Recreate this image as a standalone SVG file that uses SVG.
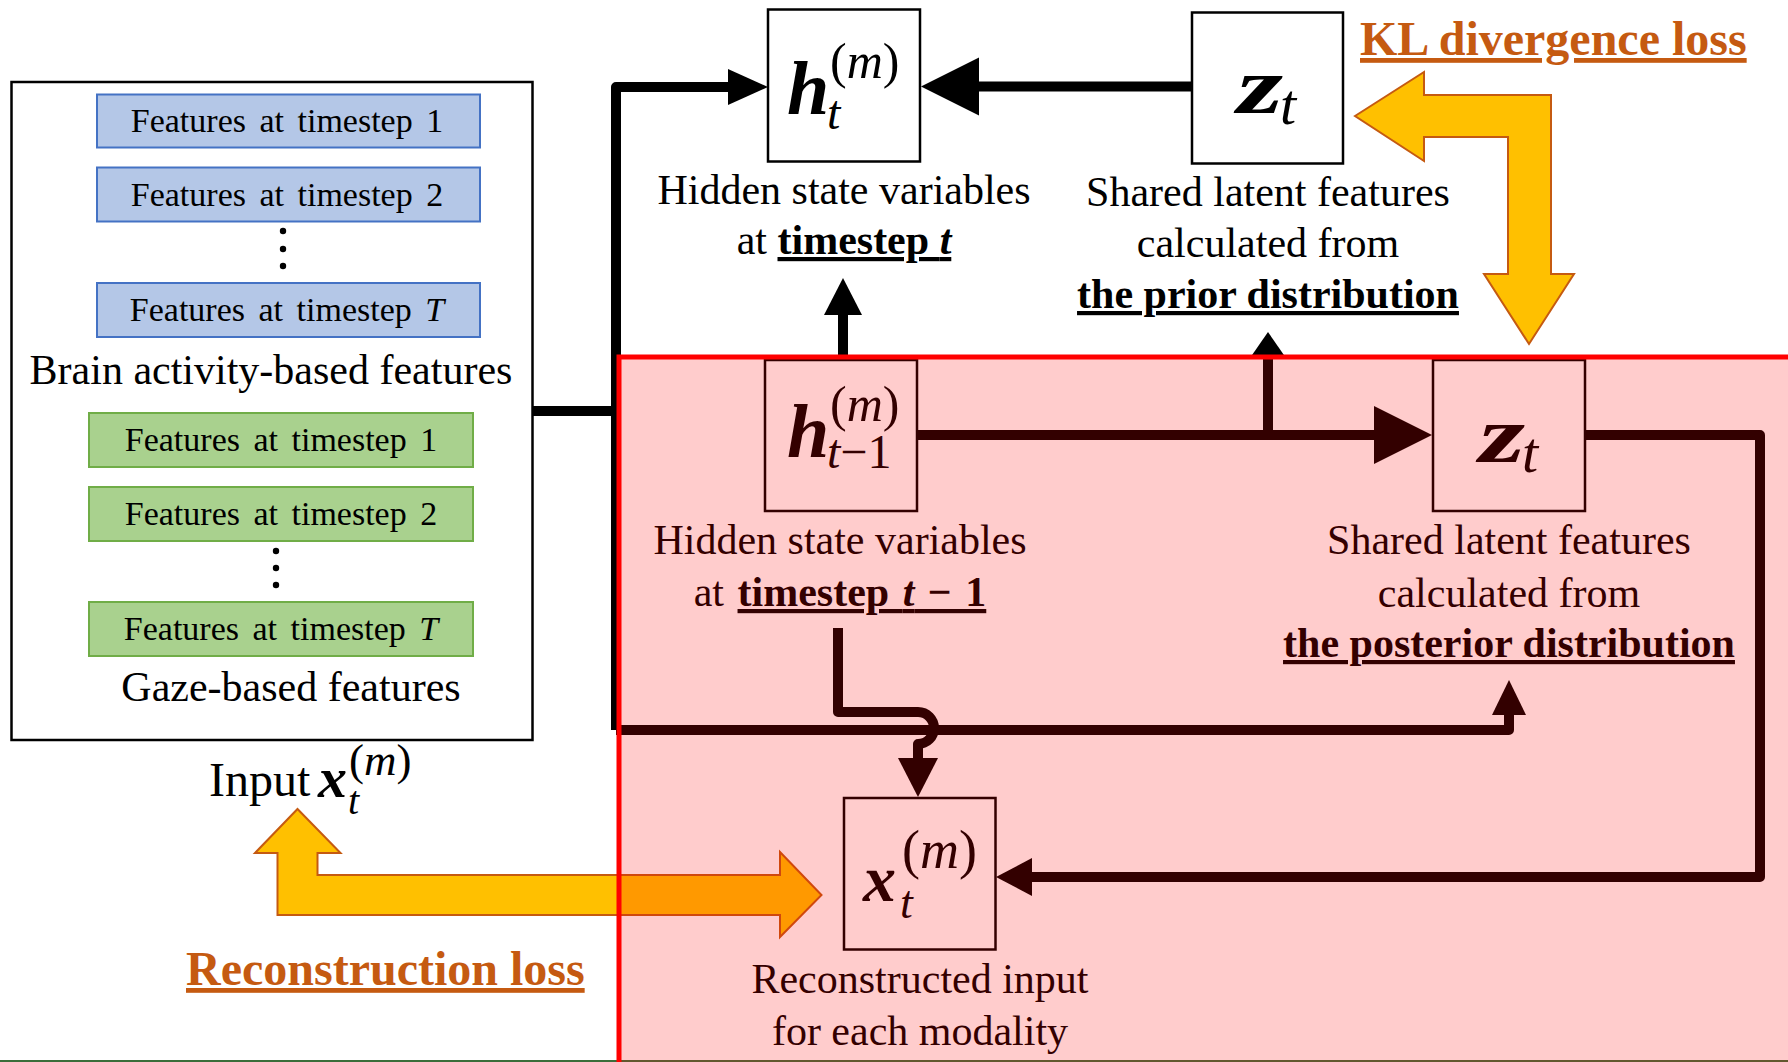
<svg xmlns="http://www.w3.org/2000/svg" width="1788" height="1062" viewBox="0 0 1788 1062">
  <style>
    .t { font-family: "Liberation Serif", "Times New Roman", serif; fill: #000; }
    .lbl { font-size: 42px; text-anchor: middle; }
    .feat { font-size: 34px; text-anchor: middle; word-spacing: 5px; }
    .b { font-weight: bold; }
    .u { text-decoration: underline; }
    .mi { font-style: italic; }
    .mb { font-style: italic; font-weight: bold; }
    .up { font-style: normal; }
    .box { fill: #fff; stroke: #000; stroke-width: 2.5; }
    .blue { fill: #B4C7E7; stroke: #4472C4; stroke-width: 2; }
    .green { fill: #A9D18E; stroke: #70AD47; stroke-width: 2; }
    .wire { fill: none; stroke: #000; stroke-width: 10; stroke-linejoin: round; }
    .head { fill: #000; }
    .loss { fill: #FFC000; stroke: #C55A11; stroke-width: 2; }
    .losstxt { font-family: "Liberation Serif", "Times New Roman", serif; font-weight: bold; font-size: 48px; fill: #C55A11; text-decoration: underline; }
  </style>

  <rect width="1788" height="1062" fill="#fff"/>

  <!-- input container with both feature stacks -->
  <g id="input">
    <rect class="box" x="11.5" y="82" width="521" height="658"/>
    <g id="brain-features">
      <rect class="blue" x="97" y="94.5" width="383" height="53"/>
      <text class="t feat" x="287" y="132">Features at timestep 1</text>
      <rect class="blue" x="97" y="167.5" width="383" height="54"/>
      <text class="t feat" x="287" y="205.5">Features at timestep 2</text>
      <circle cx="283" cy="231" r="3.2"/>
      <circle cx="283" cy="249" r="3.2"/>
      <circle cx="283" cy="266" r="3.2"/>
      <rect class="blue" x="97" y="283" width="383" height="54"/>
      <text class="t feat" x="287" y="321">Features at timestep <tspan class="mi">T</tspan></text>
      <text class="t lbl" x="271" y="384">Brain activity-based features</text>
    </g>
    <g id="gaze-features">
      <rect class="green" x="89" y="413" width="384" height="54"/>
      <text class="t feat" x="281" y="451">Features at timestep 1</text>
      <rect class="green" x="89" y="487" width="384" height="54"/>
      <text class="t feat" x="281" y="525">Features at timestep 2</text>
      <circle cx="276" cy="551" r="3.2"/>
      <circle cx="276" cy="568" r="3.2"/>
      <circle cx="276" cy="585" r="3.2"/>
      <rect class="green" x="89" y="602" width="384" height="54"/>
      <text class="t feat" x="281" y="640">Features at timestep <tspan class="mi">T</tspan></text>
      <text class="t lbl" x="291" y="701">Gaze-based features</text>
    </g>
    <text class="t" x="209" y="796" font-size="48">Input<tspan class="mb" x="318" y="797" font-size="58">x</tspan><tspan class="mi" x="348" y="814" font-size="40">t</tspan><tspan x="349" y="775" font-size="45">(<tspan class="mi">m</tspan>)</tspan></text>
  </g>

  <!-- hidden state at timestep t -->
  <g id="h-t">
    <rect class="box" x="768" y="9.5" width="152" height="152"/>
    <text class="t" x="787" y="114"><tspan class="mb" font-size="76">h</tspan><tspan class="mi" x="827" y="129" font-size="48">t</tspan><tspan x="830" y="78" font-size="50">(<tspan class="mi">m</tspan>)</tspan></text>
    <text class="t lbl" x="844" y="204">Hidden state variables</text>
    <text class="t lbl" x="844" y="254">at <tspan class="b u">timestep <tspan class="mb">t</tspan></tspan></text>
  </g>

  <!-- latent from the prior -->
  <g id="z-prior">
    <rect class="box" x="1192" y="12.5" width="151" height="151"/>
    <text class="t" x="1237" y="113"><tspan class="mb" font-size="80" textLength="46" lengthAdjust="spacingAndGlyphs">z</tspan><tspan class="mi" x="1280" y="124" font-size="58">t</tspan></text>
    <text class="t lbl" x="1268" y="206">Shared latent features</text>
    <text class="t lbl" x="1268" y="257">calculated from</text>
    <text class="t lbl b u" x="1268" y="308">the prior distribution</text>
  </g>

  <!-- hidden state at timestep t-1 -->
  <g id="h-prev">
    <rect class="box" x="765" y="360" width="152" height="151"/>
    <text class="t" x="787" y="457"><tspan class="mb" font-size="76">h</tspan><tspan class="mi" x="827" y="468" font-size="48">t<tspan class="up">−1</tspan></tspan><tspan x="830" y="421" font-size="50">(<tspan class="mi">m</tspan>)</tspan></text>
    <text class="t lbl" x="840" y="554">Hidden state variables</text>
    <text class="t lbl" x="840" y="606" word-spacing="3">at <tspan class="b u">timestep <tspan class="mb">t</tspan> − 1</tspan></text>
  </g>

  <!-- latent from the posterior -->
  <g id="z-post">
    <rect class="box" x="1433" y="360" width="152" height="151"/>
    <text class="t" x="1479" y="462"><tspan class="mb" font-size="80" textLength="46" lengthAdjust="spacingAndGlyphs">z</tspan><tspan class="mi" x="1522" y="472" font-size="58">t</tspan></text>
    <text class="t lbl" x="1509" y="554">Shared latent features</text>
    <text class="t lbl" x="1509" y="607">calculated from</text>
    <text class="t lbl b u" x="1509" y="657">the posterior distribution</text>
  </g>

  <!-- reconstructed input -->
  <g id="x-recon">
    <rect class="box" x="844" y="798" width="151.5" height="151.5"/>
    <text class="t" x="863" y="901"><tspan class="mb" font-size="66">x</tspan><tspan class="mi" x="900" y="918" font-size="46">t</tspan><tspan x="902" y="868" font-size="54">(<tspan class="mi">m</tspan>)</tspan></text>
    <text class="t lbl" x="920" y="993">Reconstructed input</text>
    <text class="t lbl" x="920" y="1045">for each modality</text>
  </g>

  <!-- loss arrows -->
  <g id="kl-loss">
    <polygon class="loss" points="1355,116 1424,72 1424,95 1551,95 1551,274 1574,274 1529,344 1484,274 1508,274 1508,137 1424,137 1424,161"/>
    <text class="losstxt" x="1360" y="55">KL divergence loss</text>
  </g>
  <g id="recon-loss">
    <polygon class="loss" points="297.5,809 340.5,853 317.5,853 317.5,875 780,875 780,852 821.5,895 780,937 780,915 277.5,915 277.5,853 255,853"/>
    <text class="losstxt" x="186" y="985">Reconstruction loss</text>
  </g>

  <!-- connectors -->
  <g id="connectors">
    <path class="wire" d="M532,411 H616"/>
    <path class="wire" d="M616,730 V87 H730"/>
    <path class="wire" d="M616,730 H1509 V713"/>
    <path class="wire" d="M1192,86.5 H977"/>
    <path class="wire" d="M843,360 V312"/>
    <path class="wire" d="M917,435 H1376"/>
    <path class="wire" d="M1268,435 V355"/>
    <path class="wire" d="M1585,435 H1760 V877 H1030"/>
    <path class="wire" d="M838,628 V712 H918 A16,16 0 0 1 918,744 V760"/>
    <polygon class="head" points="768,87 728,69 728,105"/>
    <polygon class="head" points="921,86.5 979,57.5 979,115.5"/>
    <polygon class="head" points="843,278 824,315 862,315"/>
    <polygon class="head" points="1432,435 1374,406 1374,464"/>
    <polygon class="head" points="1268,332 1250,358 1286,358"/>
    <polygon class="head" points="1509,680 1492,715 1526,715"/>
    <polygon class="head" points="996,877 1032,858 1032,896"/>
    <polygon class="head" points="918,797 898,758 938,758"/>
  </g>

  <line x1="0" y1="1061" x2="1788" y2="1061" stroke="#3B6E3B" stroke-width="2"/>

  <!-- posterior inference region, tinted -->
  <g id="posterior-region">
    <rect x="619" y="357" width="1200" height="720" fill="#FF0000" fill-opacity="0.2" stroke="#FF0000" stroke-width="5"/>
  </g>
</svg>
